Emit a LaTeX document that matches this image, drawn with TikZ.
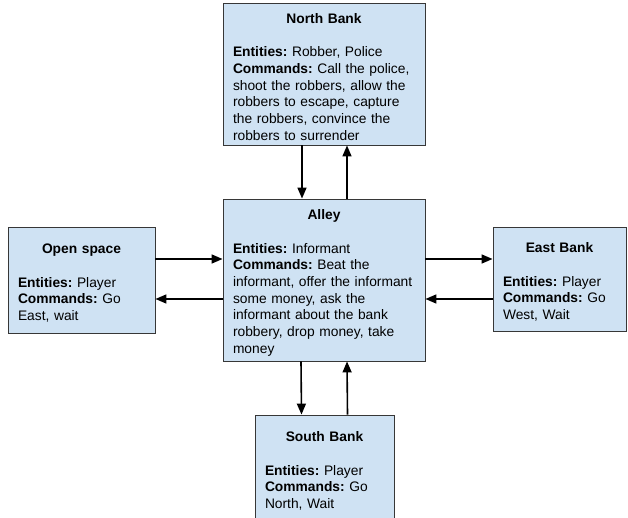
\documentclass[tikz,border=0pt]{standalone}
\usepackage{fontspec}
\setmainfont{Liberation Sans}
\usetikzlibrary{arrows.meta}
\definecolor{roomblue}{RGB}{207,226,243}
\definecolor{roomline}{RGB}{55,55,55}
\newcommand{\roomtitle}[1]{{\centering\rule{0pt}{16pt}\textbf{#1}\par}\vspace{\baselineskip}}
\frenchspacing

\begin{document}
\begin{tikzpicture}[x=1pt,y=-1pt,
    -{Triangle[length=11pt,width=9pt]}, line width=1.6pt,
    every node/.style = {shape=rectangle, draw=roomline, line width=0.9pt,
        fill=roomblue, align=left, inner xsep=10pt, inner ysep=0pt,
        font=\fontsize{13.8}{16.7}\selectfont}]
    \clip (0,0) rectangle (628,518);
    \fill[white] (0,0) rectangle (628,518);
    \node[minimum width=202pt, minimum height=142pt, text width=182pt] (north) at (324,74)
        {\roomtitle{North Bank}\textbf{Entities:} Robber, Police\\
         \textbf{Commands:} Call the police,\\ shoot the robbers, allow the\\
         robbers to escape, capture\\ the robbers, convince the\\ robbers to surrender};
    \node[minimum width=202pt, minimum height=162pt, text width=182pt] (alley) at (324,280)
        {\roomtitle{Alley}\textbf{Entities:} Informant\\
         \textbf{Commands:} Beat the\\ informant, offer the informant\\
         some money, ask the\\ informant about the bank\\ robbery, drop money, take\\ money};
    \node[minimum width=147pt, minimum height=106pt, text width=127pt] (open) at (81.5,280)
        {\roomtitle{Open space}\textbf{Entities:} Player\\
         \textbf{Commands:} Go\\ East, wait};
    \node[minimum width=133pt, minimum height=104pt, text width=113pt] (east) at (559.5,279)
        {\roomtitle{East Bank}\textbf{Entities:} Player\\
         \textbf{Commands:} Go\\ West, Wait};
    \node[minimum width=139pt, minimum height=106pt, text width=119pt] (south) at (324.5,468)
        {\roomtitle{South Bank}\textbf{Entities:} Player\\
         \textbf{Commands:} Go\\ North, Wait};
    \path
        ([xshift=-22pt]north.south) edge ([xshift=-22pt]alley.north)
        ([xshift=23pt]alley.north) edge ([xshift=23pt]north.south)
        ([xshift=-23pt]alley.south) edge ([xshift=-23pt]south.north)
        ([xshift=23pt]south.north) edge ([xshift=23pt]alley.south)
        ([yshift=21pt]open.east) edge ([yshift=21pt]alley.west)
        ([yshift=-19pt]alley.west) edge ([yshift=-19pt]open.east)
        ([yshift=21pt]alley.east) edge ([yshift=20pt]east.west)
        ([yshift=-20pt]east.west) edge ([yshift=-19pt]alley.east);
\end{tikzpicture}
\end{document}
